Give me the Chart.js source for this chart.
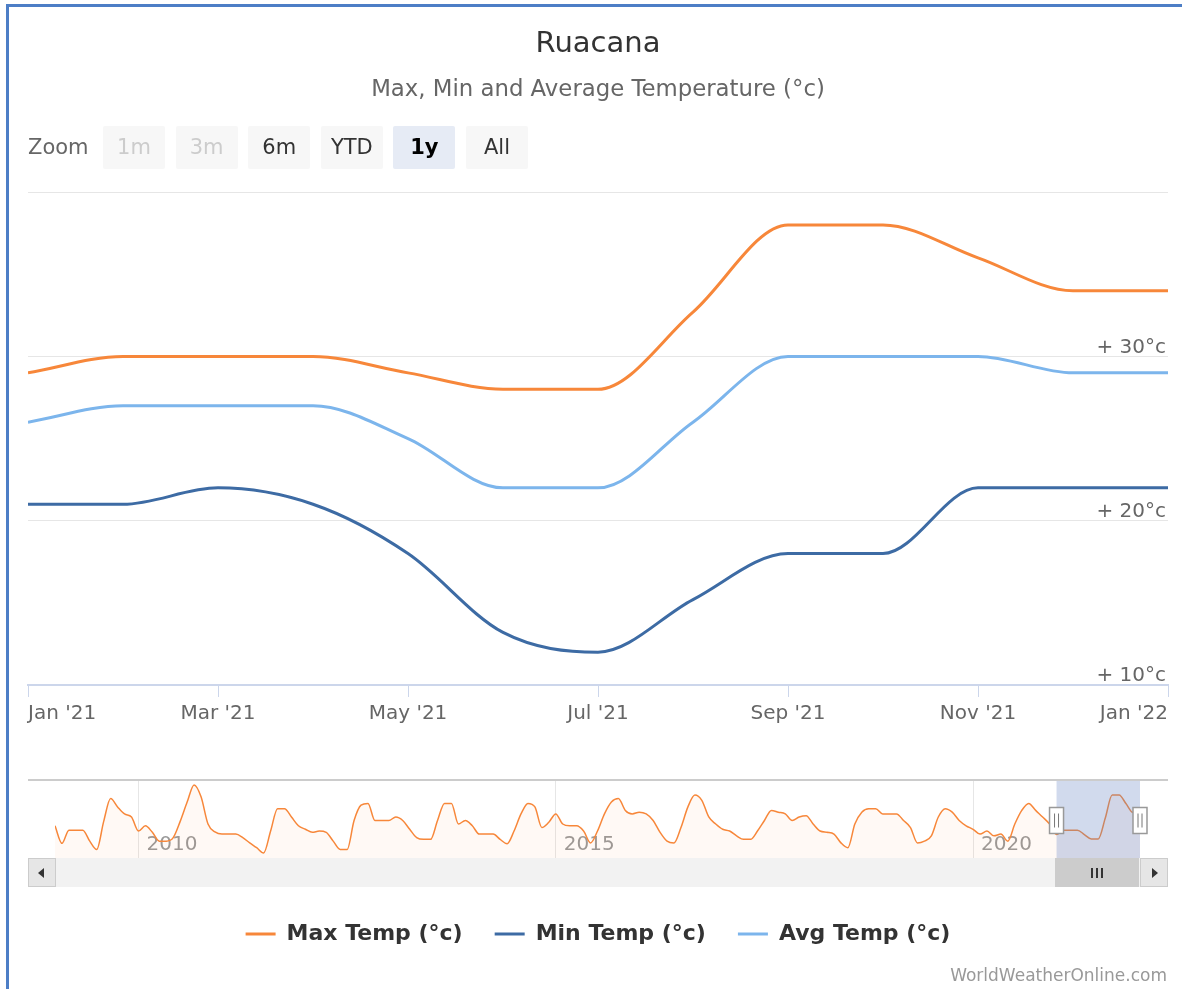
<!DOCTYPE html>
<html>
<head>
<meta charset="utf-8">
<script src="https://cdn.jsdelivr.net/npm/chart.js@4.4.0/dist/chart.umd.min.js"></script>
<style>
  html, body { margin: 0; padding: 0; background: #fff; }
  body { width: 1182px; height: 989px; position: relative; overflow: hidden; font-family: "DejaVu Sans", Verdana, sans-serif; }
  #frame { position: absolute; left: 6px; top: 4px; width: 1200px; height: 1000px; border-left: 3px solid #4d7ec6; border-top: 3px solid #4d7ec6; }
  #mainWrap { position: absolute; left: 12px; top: 0; width: 1170px; height: 989px; }
  #navWrap { position: absolute; left: 28px; top: 770px; width: 1140px; height: 90px; }
  #zoomLbl { position: absolute; left: 28px; top: 135px; font-size: 21px; color: #666; }
  .btn { position: absolute; top: 126px; width: 62px; height: 43px; line-height: 43px; text-align: center;
         background: #f7f7f7; font-size: 21px; color: #333; border-radius: 2px; }
  .btn.off { color: #ccc; }
  .btn.on { background: #e6ebf5; color: #000; font-weight: bold; }
  #track { position: absolute; left: 28px; top: 858px; width: 1140px; height: 29px; background: #f2f2f2; }
  .arrowBtn { position: absolute; top: 858px; width: 26px; height: 27px; background: #e6e6e6; border: 1px solid #ccc; }
  .arrowBtn i { position: absolute; top: 9px; width: 0; height: 0; border-top: 5px solid transparent; border-bottom: 5px solid transparent; }
  #thumb { position: absolute; left: 1055px; top: 858px; width: 84px; height: 29px; background: #cccccc; }
  #thumb b { position: absolute; top: 10px; width: 2px; height: 10px; background: #333; }
  #credits { position: absolute; right: 15px; top: 965px; font-size: 17px; color: #999; }
</style>
</head>
<body>
<div id="frame"></div>
<div id="mainWrap"><canvas id="main" width="1170" height="989"></canvas></div>
<div id="zoomLbl">Zoom</div>
<div id="buttons"></div>
<div id="navWrap"><canvas id="nav" width="1140" height="90"></canvas></div>
<div id="track"></div>
<div class="arrowBtn" style="left:28px"><i style="left:9px;border-right:6px solid #333"></i></div>
<div id="thumb"><b style="left:36px"></b><b style="left:41px"></b><b style="left:46px"></b></div>
<div class="arrowBtn" style="left:1140px"><i style="left:11px;border-left:6px solid #333"></i></div>
<div id="credits">WorldWeatherOnline.com</div>

<script>
// Daten (Monatswerte)
var months = ["Jan '21", "Feb '21", "Mar '21", "Apr '21", "May '21", "Jun '21", "Jul '21",
              "Aug '21", "Sep '21", "Oct '21", "Nov '21", "Dec '21", "Jan '22"];
var maxTemp = [29, 30, 30, 30, 29, 28, 28, 32.7, 38, 38, 36, 34, 34];
var minTemp = [21, 21, 22, 21, 18, 13.2, 12, 15.2, 18, 18, 22, 22, 22];
var avgTemp = [26, 27, 27, 27, 25, 22, 22, 26, 30, 30, 30, 29, 29];
var seriesNames = ["Max Temp (°c)", "Min Temp (°c)", "Avg Temp (°c)"];
var seriesColors = ["#f7873a", "#3d6ba4", "#7cb5ec"];
var rangeButtons = ["1m", "3m", "6m", "YTD", "1y", "All"];

// Navigator: Max Temp pro Monat, Jan 2009 - Jan 2022
var nav2009 = [31, 27, 30, 30, 30, 27.5, 25.6, 32, 37.2, 35.3, 33.7, 33];
var nav2010 = [29.8, 31, 29.5, 27.5, 27.5, 28.3, 32, 36.4, 40.3, 37.6, 31.4, 29.6];
var nav2011 = [29.1, 29.1, 29.1, 28.3, 27.1, 26, 24.8, 29.8, 34.9, 34.9, 33, 31];
var nav2012 = [30.2, 29.5, 29.8, 29.5, 27.5, 25.6, 25.6, 32.2, 35.7, 36.1, 32.2, 32.2];
var nav2013 = [32.2, 33, 32.2, 30.2, 28.3, 27.9, 27.9, 32.2, 36.1, 36.1, 31.4, 32.2];
var nav2014 = [31, 29.1, 29.1, 29.1, 27.9, 26.9, 29.8, 33.7, 36.1, 35.3, 30.6, 31.8];
var nav2015 = [33.7, 31.4, 31, 31, 29.8, 27.1, 29.8, 33.7, 36.4, 37.2, 34.5, 33.7];
var nav2016 = [34.1, 33.7, 32.2, 29.5, 27.5, 27.1, 30.6, 35.3, 38, 36.8, 33, 31.4];
var nav2017 = [30.2, 29.8, 28.7, 27.9, 27.9, 29.8, 32.2, 34.5, 34.1, 33.7, 32.2, 33];
var nav2018 = [33.3, 31.4, 29.8, 29.5, 29.1, 27.1, 26, 31.4, 34.1, 34.9, 34.9, 33.7];
var nav2019 = [33.7, 33.7, 32.2, 30.6, 27.1, 27.5, 28.7, 33, 34.9, 34.1, 32.2, 31];
var nav2020 = [30.2, 29.1, 29.8, 28.7, 29.1, 27.5, 31.4, 34.5, 36.1, 34.5, 33, 31.4];
var navYearTicks = [12, 72, 132];          // Monatsindex von 2010, 2015, 2020
var navYearLabels = ["2010", "2015", "2020"];
var navSelected = [144, 156];              // Jan '21 - Jan '22

var navMax = [].concat(nav2009, nav2010, nav2011, nav2012, nav2013, nav2014, nav2015,
                       nav2016, nav2017, nav2018, nav2019, nav2020, maxTemp);

Chart.defaults.font.family = '"DejaVu Sans", Verdana, sans-serif';

// Zoom-Buttons
var btnBox = document.getElementById("buttons");
rangeButtons.forEach(function (b, i) {
    var d = document.createElement("div");
    d.className = "btn" + (i < 2 ? " off" : "") + (b === "1y" ? " on" : "");
    d.style.left = (103 + i * 72.6) + "px";
    d.textContent = b;
    btnBox.appendChild(d);
});

function points(arr) {
    return arr.map(function (v, i) { return {x: i, y: v}; });
}

var mainSeries = [maxTemp, minTemp, avgTemp];
var datasets = mainSeries.map(function (s, i) {
    return {
        label: seriesNames[i],
        data: points(s),
        borderColor: seriesColors[i],
        backgroundColor: seriesColors[i],
        borderWidth: 3,
        pointRadius: 0,
        cubicInterpolationMode: "monotone"
    };
});

new Chart(document.getElementById("main").getContext("2d"), {
    type: "line",
    data: {datasets: datasets},
    options: {
        responsive: false,
        animation: false,
        layout: {padding: {left: 16, right: 14, top: 0, bottom: 34}},
        plugins: {
            title: {display: true, text: "Ruacana", color: "#333", font: {size: 29, weight: "normal"}, padding: {top: 27, bottom: 7}},
            subtitle: {display: true, text: "Max, Min and Average Temperature (°c)", color: "#666", font: {size: 22.8}, padding: {top: 8, bottom: 88}},
            legend: {
                position: "bottom",
                title: {display: true, text: "", font: {size: 10}, padding: {top: 148, bottom: 0}},
                labels: {
                    boxWidth: 30, boxHeight: 3, padding: 32, color: "#333",
                    font: {size: 22, weight: "bold"},
                    generateLabels: function (chart) {
                        return Chart.defaults.plugins.legend.labels.generateLabels(chart).map(function (l) {
                            l.lineWidth = 0;
                            return l;
                        });
                    }
                }
            },
            tooltip: {enabled: false}
        },
        scales: {
            x: {
                type: "linear", min: 0, max: 12,
                ticks: {
                    stepSize: 2, align: "inner", maxRotation: 0, autoSkip: false, padding: 5,
                    color: "#666", font: {size: 20},
                    callback: function (v) { return months[v]; }
                },
                grid: {drawOnChartArea: false, color: "#ccd6eb", tickLength: 12},
                border: {color: "#ccd6eb", width: 2}
            },
            y: {
                position: "right", min: 10, max: 40,
                ticks: {
                    stepSize: 10, mirror: true, labelOffset: -9, padding: -2,
                    color: "#666", font: {size: 20},
                    callback: function (v) { return v === 40 ? "" : "+ " + v + "°c"; }
                },
                grid: {color: "#e6e6e6", drawTicks: false},
                border: {display: false}
            }
        }
    }
});

// Navigator: Maske, Griffe und obere Linie
var navDecor = {
    id: "navDecor",
    beforeDraw: function (chart) {
        var c = chart.ctx, a = chart.chartArea;
        c.save();
        c.strokeStyle = "#cccccc";
        c.lineWidth = 2;
        c.beginPath();
        c.moveTo(0, a.top - 1);
        c.lineTo(chart.width, a.top - 1);
        c.stroke();
        c.restore();
    },
    afterDatasetsDraw: function (chart) {
        var c = chart.ctx, a = chart.chartArea, xs = chart.scales.x;
        var x0 = xs.getPixelForValue(navSelected[0]);
        var x1 = xs.getPixelForValue(navSelected[1]);
        c.save();
        c.fillStyle = "rgba(102,133,194,0.3)";
        c.fillRect(x0, a.top, x1 - x0, a.bottom - a.top);
        var cy = (a.top + a.bottom) / 2;
        [x0, x1].forEach(function (x) {
            c.fillStyle = "#fff";
            c.strokeStyle = "#999";
            c.lineWidth = 1.5;
            c.fillRect(x - 7, cy - 13, 14, 26);
            c.strokeRect(x - 7, cy - 13, 14, 26);
            c.strokeStyle = "#777";
            c.lineWidth = 1;
            c.beginPath();
            c.moveTo(x - 2, cy - 7); c.lineTo(x - 2, cy + 7);
            c.moveTo(x + 2, cy - 7); c.lineTo(x + 2, cy + 7);
            c.stroke();
        });
        c.restore();
    }
};

new Chart(document.getElementById("nav").getContext("2d"), {
    type: "line",
    data: {
        datasets: [{
            data: points(navMax),
            borderColor: seriesColors[0],
            backgroundColor: "rgba(247,135,58,0.05)",
            fill: "start",
            borderWidth: 1.5,
            pointRadius: 0,
            cubicInterpolationMode: "monotone"
        }]
    },
    options: {
        responsive: false,
        animation: false,
        layout: {padding: {left: 27, right: 28, top: 11, bottom: 0}},
        plugins: {legend: {display: false}, tooltip: {enabled: false}},
        scales: {
            x: {
                type: "linear", min: 0, max: navMax.length - 1,
                afterBuildTicks: function (s) {
                    s.ticks = navYearTicks.map(function (v) { return {value: v}; });
                },
                ticks: {
                    align: "start", labelOffset: 8, padding: -27, maxRotation: 0, autoSkip: false,
                    color: "#999", font: {size: 20},
                    callback: function (v) { return navYearLabels[navYearTicks.indexOf(v)]; }
                },
                grid: {color: "#e6e6e6", drawTicks: false},
                border: {display: false}
            },
            y: {display: false, min: 23.2, max: 41.2}
        }
    },
    plugins: [navDecor]
});
</script>
</body>
</html>
